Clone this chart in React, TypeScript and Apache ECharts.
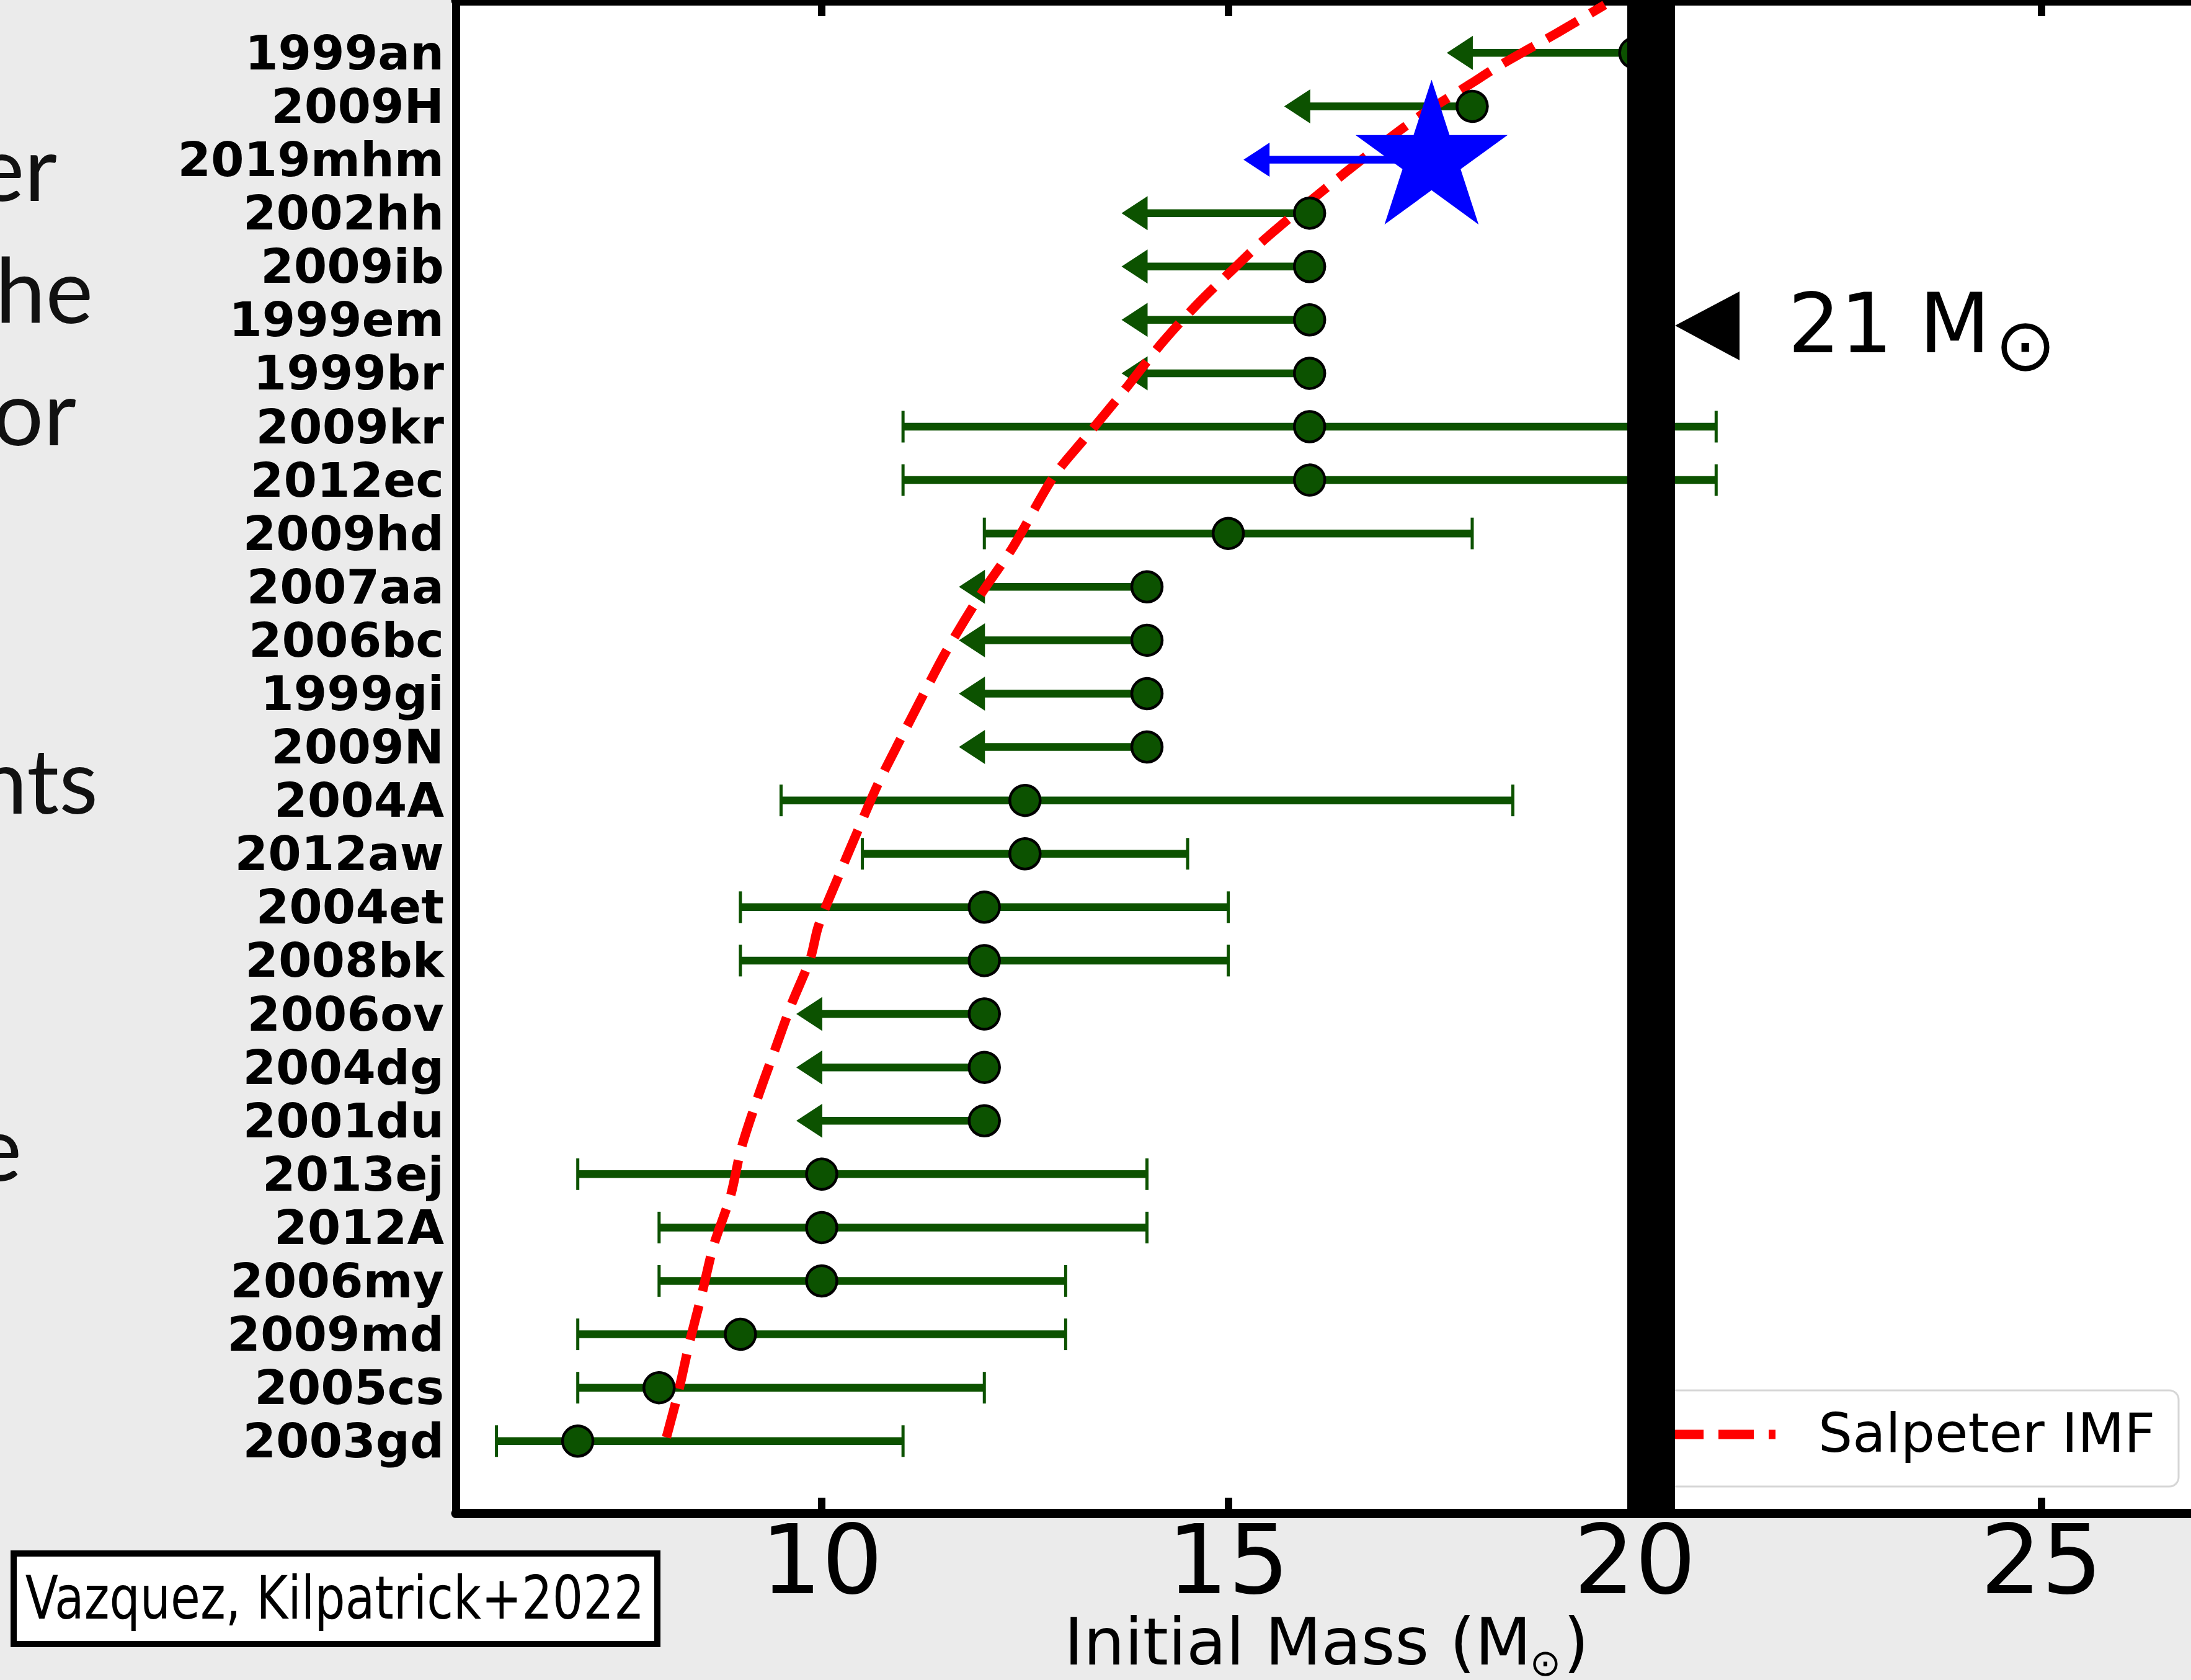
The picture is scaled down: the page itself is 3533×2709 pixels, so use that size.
import React, { useEffect, useRef } from 'react';
import * as echarts from 'echarts';

// ---------- data ----------
// supernovae, top to bottom as listed on the y axis
const supernovae = ['1999an', '2009H', '2019mhm', '2002hh', '2009ib', '1999em', '1999br', '2009kr', '2012ec', '2009hd', '2007aa', '2006bc', '1999gi', '2009N', '2004A', '2012aw', '2004et', '2008bk', '2006ov', '2004dg', '2001du', '2013ej', '2012A', '2006my', '2009md', '2005cs', '2003gd'];
// progenitor initial mass (marker position)
const initialMass = [20, 18, 17.5, 16, 16, 16, 16, 16, 16, 15, 14, 14, 14, 14, 12.5, 12.5, 12, 12, 12, 12, 12, 10, 10, 10, 9, 8, 7];
// left end of the error bar (for upper limits: where the arrow head sits)
const barLeft = [18, 16, 15.5, 14, 14, 14, 14, 11, 11, 12, 12, 12, 12, 12, 9.5, 10.5, 9, 9, 10, 10, 10, 7, 8, 8, 7, 7, 6];
// right end of the error bar
const barRight = [20, 18, 17.5, 16, 16, 16, 16, 21, 21, 18, 14, 14, 14, 14, 18.5, 14.5, 15, 15, 12, 12, 12, 14, 14, 13, 13, 12, 11];
// 1 = upper limit (arrow), 0 = two-sided range (caps)
const isUpperLimit = [1, 1, 1, 1, 1, 1, 1, 0, 0, 0, 1, 1, 1, 1, 0, 0, 0, 0, 1, 1, 1, 0, 0, 0, 0, 0, 0];
const highlighted = '2019mhm';

// Salpeter IMF curve: mass vs. rank position (row index from the bottom)
const imfMass = [8.09, 8.24, 8.37, 8.53, 8.67, 8.88, 9.01, 9.21, 9.42, 9.63, 9.86, 9.96, 10.21, 10.44, 10.69, 10.98, 11.26, 11.53, 11.94, 12.35, 12.85, 13.24, 13.71, 14.18, 14.61, 15.04, 15.5, 16.44, 17.3, 17.99, 18.31, 19.05, 19.63];
const imfRank = [0.07, 0.94, 1.82, 2.78, 3.66, 4.6, 5.48, 6.42, 7.31, 8.19, 9.04, 9.65, 10.59, 11.42, 12.3, 13.18, 14.01, 14.79, 15.82, 16.74, 18.06, 18.79, 19.66, 20.56, 21.28, 21.92, 22.58, 23.76, 24.76, 25.43, 25.74, 26.38, 26.9];

const xTicks = [10, 15, 20, 25];
const xRange = [5.5, 27];
const yRange = [-1.35, 26.98];
const massLimit = 20.2; // thick black vertical line
const limitLabel = '21 M';
const xTitle = 'Initial Mass (M';
const legendLabel = 'Salpeter IMF';
const citation = 'Vazquez, Kilpatrick+2022';
const slideFragments = ['er', 'he', 'or', 'nts', 'e'];

const GREEN = '#0c5200';
const BLUE = '#0000ff';
const RED = '#ff0000';
const FONT = 'DejaVu Sans';

function measure(text: string, font: string): number {
  const c = document.createElement('canvas').getContext('2d');
  if (!c) return text.length * 50;
  c.font = font;
  return c.measureText(text).width;
}

export default function App() {
  const ref = useRef<HTMLDivElement>(null);

  useEffect(() => {
    if (!ref.current) return;
    const chart = echarts.init(ref.current, null, { renderer: 'svg' });
    const n = supernovae.length;
    const rowOf = (i: number) => n - 1 - i;
    const rows = supernovae.map((_, i) => rowOf(i)).sort((a, b) => a - b);

    const barData: number[][] = [];
    const hlData: number[][] = [];
    const dotData: number[][] = [];
    const starData: number[][] = [];
    supernovae.forEach((name, i) => {
      const item = [rowOf(i), barLeft[i], barRight[i], isUpperLimit[i], initialMass[i]];
      if (name === highlighted) {
        hlData.push(item);
        starData.push([initialMass[i], rowOf(i)]);
      } else {
        barData.push(item);
        dotData.push([initialMass[i], rowOf(i)]);
      }
    });

    const makeBar = (color: string) => (params: any, api: any) => {
      const row = api.value(0);
      const lo = api.value(1);
      const hi = api.value(2);
      const lim = api.value(3);
      const pl = api.coord([lo, row]);
      const pr = api.coord([hi, row]);
      const y = pl[1];
      const children: any[] = [
        { type: 'line', shape: { x1: pl[0], y1: y, x2: pr[0], y2: y }, style: { stroke: color, lineWidth: 12.5 } },
      ];
      if (lim) {
        children.push({
          type: 'polygon',
          shape: { points: [[pl[0] + 1, y - 27.5], [pl[0] + 1, y + 27.5], [pl[0] - 41, y]] },
          style: { fill: color },
        });
      } else {
        children.push({ type: 'line', shape: { x1: pl[0], y1: y - 25.5, x2: pl[0], y2: y + 25.5 }, style: { stroke: color, lineWidth: 5 } });
        children.push({ type: 'line', shape: { x1: pr[0], y1: y - 25.5, x2: pr[0], y2: y + 25.5 }, style: { stroke: color, lineWidth: 5 } });
      }
      return { type: 'group', children };
    };

    const renderStar = (params: any, api: any) => {
      const p = api.coord([api.value(0), api.value(1)]);
      const R = 129;
      const r = R * 0.381966;
      const pts: number[][] = [];
      for (let k = 0; k < 10; k++) {
        const a = (-90 + k * 36) * Math.PI / 180;
        const rad = k % 2 === 0 ? R : r;
        pts.push([p[0] + rad * Math.cos(a), p[1] + rad * Math.sin(a)]);
      }
      return { type: 'polygon', shape: { points: pts }, style: { fill: BLUE } };
    };

    const renderLimitLine = (params: any, api: any) => {
      const x = api.coord([api.value(0), 0])[0];
      const cs = params.coordSys;
      return { type: 'rect', shape: { x: x - 38.5, y: cs.y, width: 77, height: cs.height }, style: { fill: '#000' } };
    };

    // citation text squeezed to fit its box
    const citeFont = `96px "${FONT}"`;
    const citeW = measure(citation, citeFont);
    const citeScale = 999 / citeW;

    const slideRight = [92, 150, 123, 158, 35];
    const slideY = [268, 465, 662, 1256, 1848];

    const graphic: any[] = [];
    slideFragments.forEach((t, k) => {
      graphic.push({
        type: 'text', x: slideRight[k], y: slideY[k], z: 10,
        style: { text: t, fontSize: 145, fontFamily: 'Lato', fill: '#111', align: 'right', verticalAlign: 'middle' },
      });
    });
    // citation box
    graphic.push({ type: 'rect', z: 10, shape: { x: 22, y: 2505, width: 1038, height: 146 }, style: { fill: '#fff', stroke: '#000', lineWidth: 10 } });
    graphic.push({
      type: 'text', x: 540, y: 2577, scaleX: citeScale, z: 11,
      style: { text: citation, fontSize: 96, fontFamily: FONT, fill: '#000', align: 'center', verticalAlign: 'middle' },
    });
    // x-axis title
    graphic.push({ type: 'text', x: 1716, y: 2648, z: 10, style: { text: xTitle, fontSize: 105, fontFamily: FONT, fill: '#000', align: 'left', verticalAlign: 'middle' } });
    graphic.push({ type: 'text', x: 2492, y: 2681, z: 10, style: { text: '\u2299', fontSize: 60, fontFamily: FONT, fill: '#000', align: 'center', verticalAlign: 'middle' } });
    graphic.push({ type: 'text', x: 2521, y: 2648, z: 10, style: { text: ')', fontSize: 105, fontFamily: FONT, fill: '#000', align: 'left', verticalAlign: 'middle' } });
    // legend
    graphic.push({ type: 'rect', z: 5, shape: { x: 2652, y: 2242, width: 861, height: 155, r: 15 }, style: { fill: '#fff', stroke: '#d6d6d6', lineWidth: 3 } });
    graphic.push({ type: 'line', z: 6, shape: { x1: 2690, y1: 2313, x2: 2863, y2: 2313 }, style: { stroke: RED, lineWidth: 15, lineDash: [57, 24] } });
    graphic.push({ type: 'text', x: 2932, y: 2311, z: 6, style: { text: legendLabel, fontSize: 87, fontFamily: FONT, fill: '#000', align: 'left', verticalAlign: 'middle' } });
    // 21 Msun annotation
    graphic.push({ type: 'polygon', z: 25, shape: { points: [[2701, 525], [2805, 470], [2805, 581]] }, style: { fill: '#000' } });
    graphic.push({ type: 'text', x: 2883, y: 522, z: 25, style: { text: limitLabel, fontSize: 133, fontFamily: FONT, fill: '#000', align: 'left', verticalAlign: 'middle' } });
    graphic.push({ type: 'text', x: 3266, y: 556, z: 25, style: { text: '\u2299', fontSize: 118, fontFamily: FONT, fill: '#000', align: 'center', verticalAlign: 'middle' } });

    const option: any = {
      animation: false,
      backgroundColor: '#ebebeb',
      textStyle: { fontFamily: FONT },
      grid: {
        left: 735, top: 1, width: 2819, height: 2439, show: true, backgroundColor: '#ffffff', borderWidth: 0, borderColor: 'transparent',
        outerBoundsMode: 'none', containLabel: false,
      },
      xAxis: [
        {
          type: 'value', min: xRange[0], max: xRange[1], position: 'bottom',
          splitLine: { show: false },
          axisLine: { show: true, onZero: false, lineStyle: { color: '#000', width: 15 } },
          axisTick: { show: true, inside: true, length: 25, customValues: xTicks, lineStyle: { color: '#000', width: 12 } },
          axisLabel: { show: true, customValues: xTicks, fontSize: 155, color: '#000', fontFamily: FONT, margin: -2 },
        },
        {
          type: 'value', min: xRange[0], max: xRange[1], position: 'top',
          splitLine: { show: false },
          axisLine: { show: true, onZero: false, lineStyle: { color: '#000', width: 15 } },
          axisTick: { show: true, inside: true, length: 25, customValues: xTicks, lineStyle: { color: '#000', width: 12 } },
          axisLabel: { show: false },
        },
      ],
      yAxis: {
        type: 'value', min: yRange[0], max: yRange[1],
        splitLine: { show: false },
        axisLine: { show: true, onZero: false, lineStyle: { color: '#000', width: 13 } },
        axisTick: { show: true, inside: false, length: 6, customValues: rows, lineStyle: { color: '#000', width: 2 } },
        axisLabel: {
          show: true, customValues: rows, margin: 19, fontSize: 77, fontWeight: 'bold', color: '#000', fontFamily: FONT,
          formatter: (v: number) => supernovae[n - 1 - Math.round(v)] || '',
        },
      },
      series: [
        { type: 'custom', name: 'ranges', z: 2, data: barData, encode: { x: [1, 2], y: 0 }, renderItem: makeBar(GREEN) },
        {
          type: 'line', name: legendLabel, z: 3, showSymbol: false, symbol: 'none', clip: true, smooth: 0.3,
          data: imfMass.map((m, k) => [m, imfRank[k]]),
          lineStyle: { color: RED, width: 15, type: [57, 24] },
        },
        {
          type: 'scatter', name: 'progenitors', z: 4, data: dotData, symbol: 'circle', symbolSize: 49,
          itemStyle: { color: GREEN, borderColor: '#000', borderWidth: 4.5, opacity: 1 },
        },
        { type: 'custom', name: 'highlight', z: 5, data: hlData, encode: { x: [1, 2], y: 0 }, renderItem: makeBar(BLUE) },
        { type: 'custom', name: 'star', z: 6, data: starData, encode: { x: 0, y: 1 }, renderItem: renderStar },
        { type: 'custom', name: 'limit', z: 20, data: [[massLimit]], encode: { x: 0 }, renderItem: renderLimitLine },
      ],
      graphic,
    };
    chart.setOption(option);
    return () => chart.dispose();
  }, []);

  return <div ref={ref} style={{ position: 'fixed', left: 0, top: 0, width: 3533, height: 2709 }} />;
}
